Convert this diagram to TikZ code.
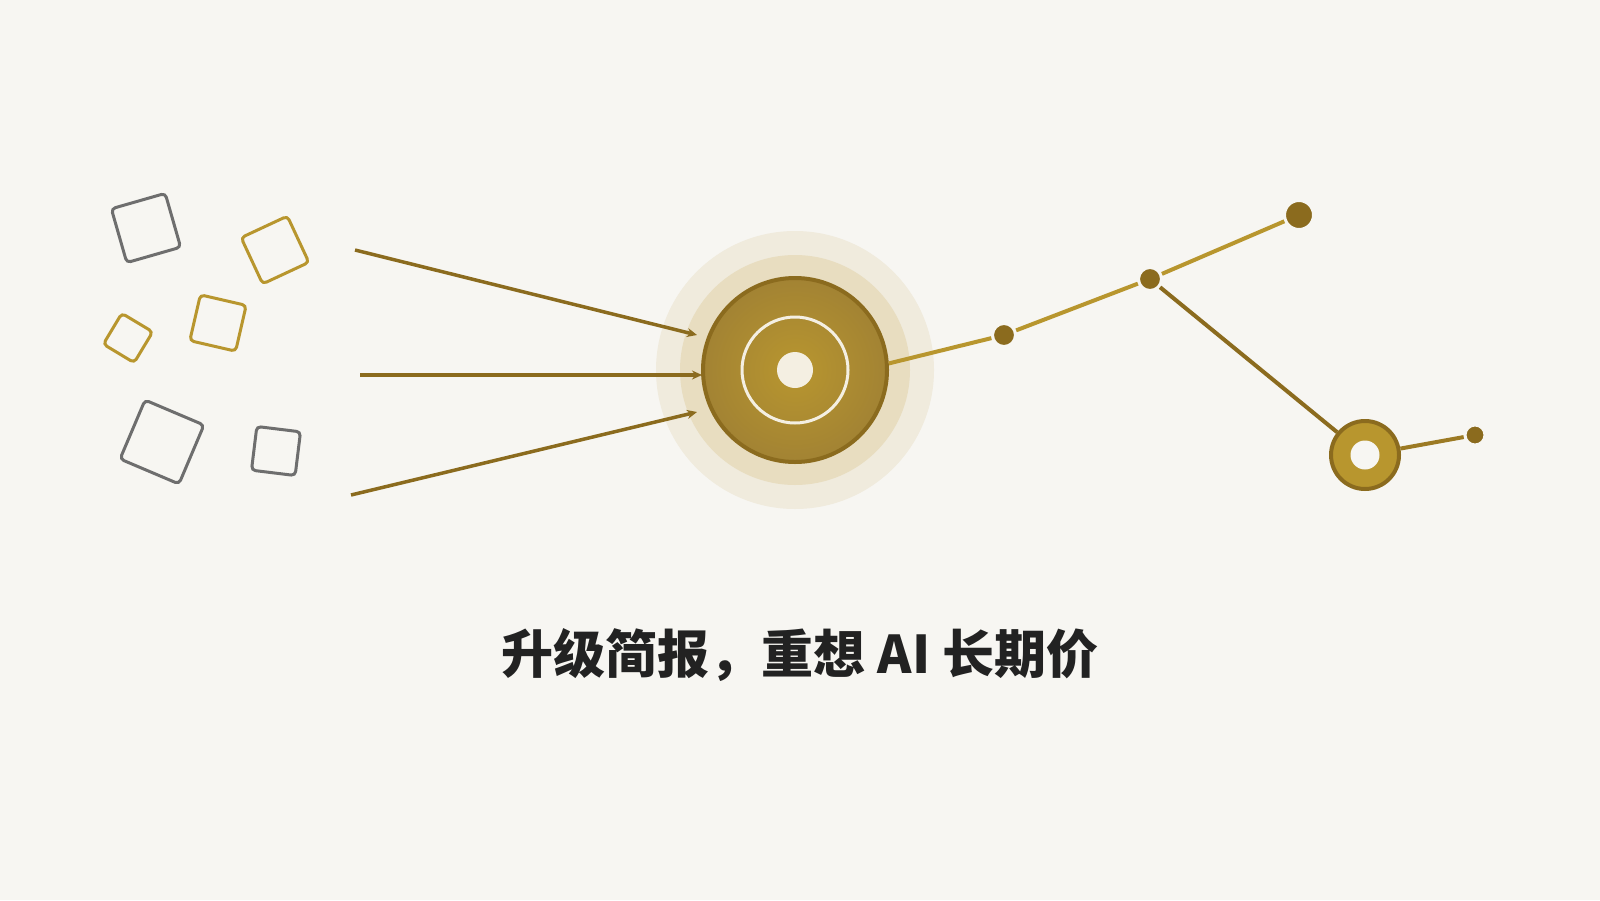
\documentclass[tikz,border=0pt]{standalone}
\usepackage{fontspec}
\newfontfamily\cjk{Noto Sans CJK SC Black}
\usetikzlibrary{arrows.meta}
\definecolor{bg}{HTML}{F7F6F2}
\definecolor{gold}{HTML}{B8962E}
\definecolor{dgold}{HTML}{8B6B1E}
\definecolor{mgold}{HTML}{9C7A24}
\definecolor{sgray}{HTML}{6E6E6E}
\definecolor{haloA}{HTML}{F0EBDD}
\definecolor{haloB}{HTML}{E8DDC0}
\definecolor{gc}{HTML}{B8962F}
\definecolor{ge}{HTML}{9E7F34}
\definecolor{cream}{HTML}{F4EFE2}
\definecolor{ink}{HTML}{222222}
\pgfdeclareradialshading{goldrad}{\pgfpoint{0bp}{0bp}}{color(0bp)=(gc); color(30bp)=(ge); color(50bp)=(ge); color(100bp)=(ge)}
\tikzset{
  sq/.style={draw, line width=3pt, rounded corners=4pt, inner sep=0pt, outer sep=0pt},
  graysq/.style={sq, draw=sgray},
  goldsq/.style={sq, draw=gold},
  inarrow/.style={draw=dgold, line width=3.5pt, -{Stealth[length=10pt,width=9pt]}},
  dot/.style={circle, fill=dgold, draw=bg, line width=3pt, inner sep=0pt},
  goldline/.style={draw=gold, line width=4pt},
  darkline/.style={draw=dgold, line width=4pt},
}
\begin{document}
\begin{tikzpicture}[x=1pt,y=1pt]
\fill[bg] (0,0) rectangle (1600,-900);
\useasboundingbox (0,0) rectangle (1600,-900);
% scattered squares
\node[graysq, minimum size=56pt, rotate=16] (s1) at (146,-228) {};
\node[goldsq, minimum size=51pt, rotate=25] (s2) at (275,-250) {};
\node[goldsq, minimum size=47pt, rotate=-13] (s3) at (218,-323) {};
\node[goldsq, minimum size=36pt, rotate=-31] (s4) at (128,-338) {};
\node[graysq, minimum size=64pt, rotate=-23] (s5) at (162,-442) {};
\node[graysq, minimum size=44pt, rotate=-7] (s6) at (276,-451) {};
% central hub
\node[circle, fill=haloA, minimum size=278pt, inner sep=0pt] (haloa) at (795,-370) {};
\node[circle, fill=haloB, minimum size=230pt, inner sep=0pt] (halob) at (795,-370) {};
\node[circle, shading=goldrad, draw=dgold, line width=4pt, minimum size=184pt, inner sep=0pt] (hub) at (795,-370) {};
\node[circle, draw=cream, line width=3pt, minimum size=106pt, inner sep=0pt] (ring) at (795,-370) {};
\node[circle, fill=cream, minimum size=36pt, inner sep=0pt] (core) at (795,-370) {};
% incoming arrows
\coordinate (a1) at (355,-250);
\coordinate (a2) at (360,-375);
\coordinate (a3) at (351,-495);
\coordinate (e1) at (697,-335);
\coordinate (e2) at (702,-375);
\coordinate (e3) at (697,-412);
\draw[inarrow] (a1) -- (e1);
\draw[inarrow] (a2) -- (e2);
\draw[inarrow] (a3) -- (e3);
% outgoing network
\node[dot, minimum size=23pt] (n1) at (1004,-335) {};
\node[dot, minimum size=23pt] (n2) at (1150,-279) {};
\node[dot, minimum size=29pt] (n3) at (1299,-215) {};
\node[circle, fill=gold, draw=dgold, line width=4pt, minimum size=68pt, inner sep=0pt] (hubb) at (1365,-455) {};
\node[circle, fill=bg, minimum size=29pt, inner sep=0pt] (hole) at (1365,-455) {};
\node[dot, minimum size=20pt] (n4) at (1475,-435) {};
\draw[goldline] (hub.4) -- (n1);
\draw[goldline] (n1) -- (n2);
\draw[goldline] (n2) -- (n3);
\draw[darkline] (n2) -- (hubb);
\draw[mgold, line width=4pt] (hubb) -- (n4);
% title
\node[text=ink, font={\cjk\fontsize{52pt}{62pt}\selectfont}] (title) at (800,-655) {升级简报，重想 AI 长期价};
\end{tikzpicture}
\end{document}
